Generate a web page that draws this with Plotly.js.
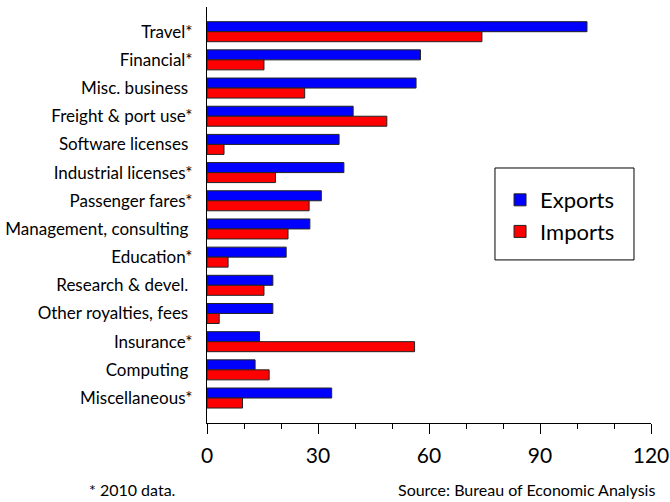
<!DOCTYPE html>
<html>
<head>
<meta charset="utf-8">
<script src="https://cdn.plot.ly/plotly-3.0.1.min.js"></script>
<style>html,body{margin:0;padding:0;background:#fff;}#chart{width:670px;height:502px;}</style>
</head>
<body>
<div id="chart"></div>
<script>
var categories = ["Travel*", "Financial*", "Misc. business\u00a0", "Freight & port use*", "Software licenses\u00a0", "Industrial licenses*", "Passenger fares*", "Management, consulting\u00a0", "Education*", "Research & devel.\u00a0", "Other royalties, fees\u00a0", "Insurance*", "Computing\u00a0", "Miscellaneous*"];
var exportsVals = [102.7, 57.7, 56.5, 39.5, 35.7, 37.0, 30.9, 27.8, 21.4, 17.8, 17.8, 14.2, 13.0, 33.7];
var importsVals = [74.3, 15.4, 26.4, 48.6, 4.6, 18.5, 27.6, 21.9, 5.7, 15.4, 3.3, 56.1, 16.8, 9.6];
var xTicks = [0, 30, 60, 90, 120];

var FONT = "Lato, 'Liberation Sans', sans-serif";

var traces = [
  {type: "bar", orientation: "h", name: "Exports", y: categories, x: exportsVals,
   marker: {color: "#0000FF", line: {color: "#222222", width: 1}}},
  {type: "bar", orientation: "h", name: "Imports", y: categories, x: importsVals,
   marker: {color: "#FF0000", line: {color: "#222222", width: 1}}}
];

var layout = {
  width: 670, height: 502,
  margin: {l: 207, r: 19, t: 7, b: 79},
  paper_bgcolor: "#fff", plot_bgcolor: "#fff",
  font: {family: FONT, color: "#000"},
  barmode: "group", bargap: 0.29, bargroupgap: 0,
  showlegend: true,
  legend: {x: 0.66, y: 0.5865, xanchor: "left", yanchor: "top",
           borderwidth: 0, bgcolor: "rgba(0,0,0,0)",
           font: {size: 22, family: FONT, color: "#000"}, traceorder: "normal",
           itemclick: false},
  xaxis: {range: [0, 120], tickvals: xTicks, ticktext: xTicks.map(String),
          showgrid: false, zeroline: false, showline: true, linecolor: "#000", linewidth: 1,
          ticks: "outside", ticklen: 10, tickcolor: "#000", tickwidth: 1,
          minor: {dtick: 10, ticks: "outside", ticklen: 5, tickcolor: "#000", tickwidth: 1, showgrid: false},
          tickfont: {size: 21, family: FONT, color: "#000"}, ticklabelstandoff: 4,
          ticklabeloverflow: "allow", fixedrange: true},
  yaxis: {type: "category", range: [13.886, -0.876], showgrid: false, zeroline: false,
          showline: true, linecolor: "#000", linewidth: 1, ticks: "",
          tickfont: {size: 17, family: FONT, color: "#000"}, ticklabelstandoff: 10,
          ticklabeloverflow: "allow", fixedrange: true},
  shapes: [
    {type: "rect", xref: "paper", yref: "paper", x0: 0.6486, x1: 0.9617, y0: 0.392, y1: 0.613,
     line: {color: "#000", width: 1}, fillcolor: "rgba(0,0,0,0)", layer: "below"}
  ],
  annotations: [
    {xref: "paper", yref: "paper", x: -0.271, y: -0.161, xanchor: "left", yanchor: "middle",
     text: "* 2010 data.", showarrow: false, font: {size: 16, family: FONT, color: "#000"}},
    {xref: "paper", yref: "paper", x: 1.0135, y: -0.161, xanchor: "right", yanchor: "middle",
     text: "Source: Bureau of Economic Analysis", showarrow: false, font: {size: 16, family: FONT, color: "#000"}}
  ]
};

Plotly.newPlot("chart", traces, layout, {displayModeBar: false, staticPlot: true});
</script>
</body>
</html>
